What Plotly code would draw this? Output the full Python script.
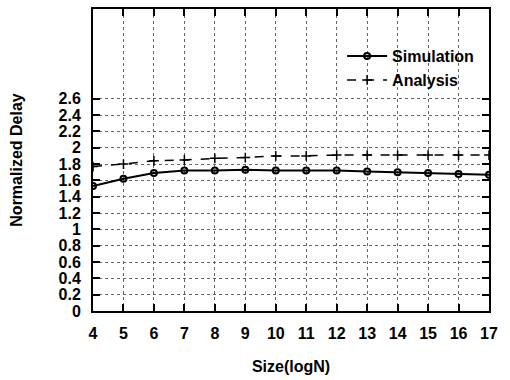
import plotly.graph_objects as go

sizes = [4, 5, 6, 7, 8, 9, 10, 11, 12, 13, 14, 15, 16, 17]
simulation = [1.53, 1.62, 1.69, 1.72, 1.72, 1.73, 1.72, 1.72, 1.72, 1.71, 1.70, 1.69, 1.68, 1.67]
analysis = [1.77, 1.80, 1.84, 1.85, 1.87, 1.88, 1.90, 1.90, 1.91, 1.91, 1.91, 1.91, 1.91, 1.91]
y_ticks = [0, 0.2, 0.4, 0.6, 0.8, 1.0, 1.2, 1.4, 1.6, 1.8, 2.0, 2.2, 2.4, 2.6]
y_tick_text = ["0", "0.2", "0.4", "0.6", "0.8", "1", "1.2", "1.4", "1.6", "1.8", "2", "2.2", "2.4", "2.6"]

FONT = "Liberation Sans, Arial, sans-serif"
F = dict(family=FONT, size=16, color="black", weight=700)

fig = go.Figure()
fig.add_trace(go.Scatter(
    x=sizes, y=simulation, name="<b>Simulation</b>", mode="lines+markers",
    line=dict(color="black", width=2),
    marker=dict(symbol="circle-open", size=6, color="black", line=dict(width=2, color="black")),
))
fig.add_trace(go.Scatter(
    x=sizes, y=analysis, name="<b>Analysis</b>", mode="lines+markers",
    line=dict(color="black", width=1.5, dash="dash"),
    marker=dict(symbol="cross-thin", size=7, color="black", line=dict(width=1.5, color="black")),
))

fig.update_layout(
    width=510, height=380,
    margin=dict(l=93, r=21, t=7, b=63),
    paper_bgcolor="white", plot_bgcolor="white",
    font=F,
    showlegend=True,
    legend=dict(x=0.975, xanchor="right", y=0.9, yanchor="top",
                bgcolor="rgba(0,0,0,0)", font=F,
                itemwidth=40, tracegroupgap=0),
    xaxis=dict(
        range=[4, 17], tickvals=sizes, ticks="inside", ticklen=7, tickwidth=2,
        tickcolor="black", showline=True, linewidth=2, linecolor="black", mirror="ticks",
        showgrid=True, gridcolor="#666", griddash="dot", gridwidth=1,
        zeroline=False, ticklabelstandoff=7,
        tickfont=F,
        title=dict(text="<b>Size(logN)</b>", standoff=20, font=F),
    ),
    yaxis=dict(
        range=[0, 3.7], tickvals=y_ticks, ticktext=["<b>%s</b>" % t for t in y_tick_text],
        ticks="inside", ticklen=7,
        tickwidth=2, tickcolor="black", showline=True, linewidth=2, linecolor="black",
        mirror="ticks", showgrid=True, gridcolor="#666", griddash="dot", gridwidth=1,
        zeroline=False, ticklabelstandoff=7,
        tickfont=F,
        title=dict(text="<b>Normalized Delay</b>", standoff=32, font=F),
    ),
)

fig.write_html("out.html")
